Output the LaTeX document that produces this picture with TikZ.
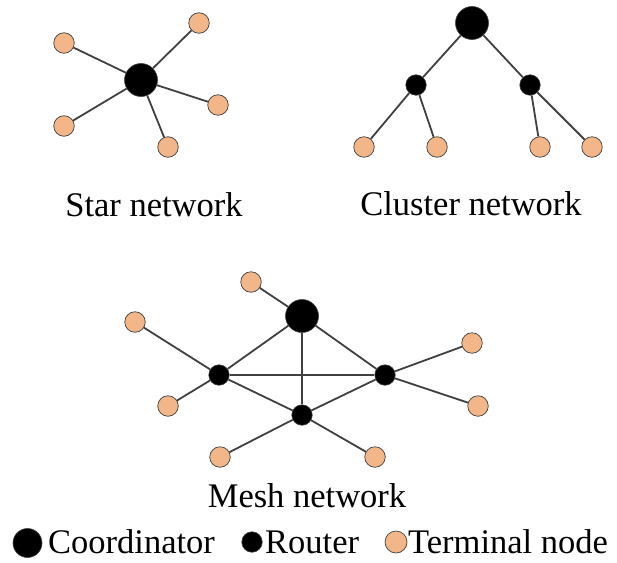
\documentclass[tikz,border=0pt]{standalone}
\usepackage{fontspec}
\setmainfont{Liberation Serif}
\definecolor{termfill}{RGB}{242,182,136}
\definecolor{edgecol}{RGB}{64,64,64}
\tikzset{
  coord/.style={circle,fill=black,draw=edgecol,line width=0.6pt,inner sep=0pt,minimum size=33pt},
  router/.style={circle,fill=black,draw=edgecol,line width=0.6pt,inner sep=0pt,minimum size=20.5pt},
  term/.style={circle,fill=termfill,draw=edgecol,line width=0.7pt,inner sep=0pt,minimum size=20.5pt},
  link/.style={draw=edgecol,line width=1.8pt},
  lbl/.style={inner sep=0pt,anchor=base,font=\fontsize{34.5}{40}\selectfont},
  legtxt/.style={inner sep=0pt,anchor=base west,font=\fontsize{34.5}{40}\selectfont}
}
\begin{document}
\begin{tikzpicture}[x=1pt,y=-1pt]
\useasboundingbox (0,0) rectangle (617,562);
% Star network
\node[coord] (sc) at (141,80) {};
\node[term] (s1) at (64,43) {};
\node[term] (s2) at (199,23) {};
\node[term] (s3) at (218,105) {};
\node[term] (s4) at (168,147) {};
\node[term] (s5) at (64,126) {};
\foreach \t in {s1,s2,s3,s4,s5} \draw[link] (sc) -- (\t);
\node[lbl] (slabel) at (154,216) {Star network};
% Cluster network
\node[coord] (cc) at (472,23) {};
\node[router] (cr1) at (416,85) {};
\node[router] (cr2) at (530,85) {};
\node[term] (ct1) at (364,147) {};
\node[term] (ct2) at (437,147) {};
\node[term] (ct3) at (540,147) {};
\node[term] (ct4) at (592,147) {};
\draw[link] (cc) -- (cr1);
\draw[link] (cc) -- (cr2);
\draw[link] (cr1) -- (ct1);
\draw[link] (cr1) -- (ct2);
\draw[link] (cr2) -- (ct3);
\draw[link] (cr2) -- (ct4);
\node[lbl] (clabel) at (471,215) {Cluster network};
% Mesh network
\node[coord] (mc) at (302,316) {};
\node[router] (mr1) at (219,375) {};
\node[router] (mr2) at (385,375) {};
\node[router] (mr3) at (302,415) {};
\node[term] (mt1) at (251,282) {};
\node[term] (mt2) at (135,322) {};
\node[term] (mt3) at (472,343) {};
\node[term] (mt4) at (168,406) {};
\node[term] (mt5) at (478,406) {};
\node[term] (mt6) at (220,457) {};
\node[term] (mt7) at (375,457) {};
\draw[link] (mc) -- (mr1);
\draw[link] (mc) -- (mr2);
\draw[link] (mc) -- (mr3);
\draw[link] (mr1) -- (mr2);
\draw[link] (mr1) -- (mr3);
\draw[link] (mr2) -- (mr3);
\draw[link] (mc) -- (mt1);
\draw[link] (mr1) -- (mt2);
\draw[link] (mr1) -- (mt4);
\draw[link] (mr2) -- (mt3);
\draw[link] (mr2) -- (mt5);
\draw[link] (mr3) -- (mt6);
\draw[link] (mr3) -- (mt7);
\node[lbl] (mlabel) at (307,507) {Mesh network};
% Legend
\node[coord,minimum size=29pt] (lc) at (27.5,543) {};
\node[legtxt] (lct) at (48,553) {Coordinator};
\node[router] (lr) at (252,542) {};
\node[legtxt] (lrt) at (265,553) {Router};
\node[term,minimum size=22pt] (lt) at (396,542) {};
\node[legtxt] (ltt) at (408,553) {Terminal node};
\end{tikzpicture}
\end{document}
